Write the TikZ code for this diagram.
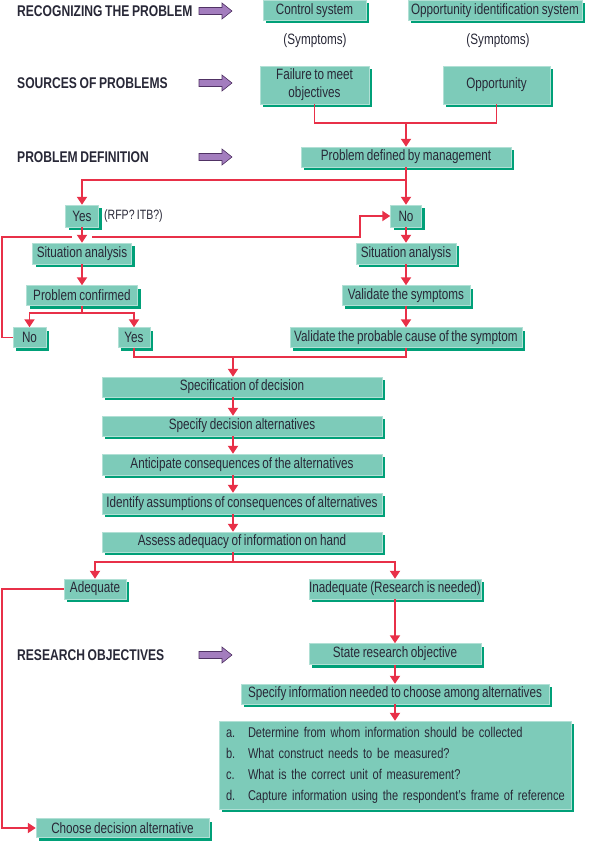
\documentclass[tikz,border=0pt]{standalone}
\usepackage{fontspec}
\setmainfont{Liberation Sans}[FakeStretch=0.78, WordSpace=0.8]
\usetikzlibrary{shapes,arrows,positioning,calc,shadows}
\usetikzlibrary{arrows.meta}
\definecolor{boxfill}{RGB}{125,203,185}
\definecolor{boxshade}{RGB}{0,160,120}
\definecolor{flowred}{RGB}{232,48,72}
\definecolor{arrowpurple}{RGB}{163,125,190}
\definecolor{arrowedge}{RGB}{80,50,100}
\definecolor{inktext}{RGB}{40,40,55}
\newcommand\askitem[2]{\mbox{\hspace*{3.5pt}\makebox[22pt][l]{#1}#2}}

\begin{document}
\begin{tikzpicture}[x=1pt,y=-1pt,
  box/.style={fill=boxfill, draw=boxfill!60!white, line width=0.4pt, text=inktext,
    inner sep=0pt, minimum height=20pt, font=\fontsize{15}{18}\selectfont,
    copy shadow={shadow xshift=3pt, shadow yshift=-3pt, fill=boxshade, draw=none}},
  link/.style={draw=flowred, line width=1.8pt},
  flow/.style={link, -{Triangle[width=10pt,length=8pt]}},
  heading/.style={anchor=west, inner sep=0pt, text=inktext,
    font=\fontsize{15.5}{18}\selectfont\bfseries},
  note/.style={inner sep=0pt, text=inktext, font=\fontsize{15}{18}\selectfont},
  sidearrow/.style={fill=arrowpurple, draw=arrowedge, line width=0.6pt}
]
  \fill[white] (0,0) rectangle (590,843);
  \useasboundingbox (0,0) rectangle (590,843);

  % headings on the left
  \node[heading] (hrecog) at (17,11) {RECOGNIZING THE PROBLEM};
  \node[heading] (hsource) at (17,83) {SOURCES OF PROBLEMS};
  \node[heading] (hdefine) at (17,157) {PROBLEM DEFINITION};
  \node[heading] (hobject) at (17,655) {RESEARCH OBJECTIVES};
  \foreach \hy in {11,83,157,655}
    \draw[sidearrow] (199,\hy-3.5) -- (222,\hy-3.5) -- (222,\hy-8) -- (232,\hy)
      -- (222,\hy+8) -- (222,\hy+3.5) -- (199,\hy+3.5) -- cycle;

  % recognizing and sources
  \node[box, minimum width=103pt] (ctrl) at (314.5,10.5) {Control system};
  \node[box, minimum width=174pt] (oppid) at (495,10.5) {Opportunity identification system};
  \node[note] (symA) at (315,41) {(Symptoms)};
  \node[note] (symB) at (498,41) {(Symptoms)};
  \node[box, minimum width=109pt, minimum height=38pt, align=center] (failure) at (314.5,85) {Failure to meet\\objectives};
  \node[box, minimum width=107pt, minimum height=38pt] (oppsrc) at (496.5,85) {Opportunity};
  \node[box, minimum width=210pt] (probdef) at (406,157) {Problem defined by management};

  % two branches
  \node[box, minimum width=33pt, minimum height=22pt] (yesA) at (82,216) {Yes};
  \node[note, anchor=west, font=\fontsize{13.5}{16}\selectfont] (rfp) at (104,216) {(RFP? ITB?)};
  \node[box, minimum width=31pt, minimum height=22pt] (noA) at (406,216) {No};
  \node[box, minimum width=99pt, minimum height=21pt] (sitL) at (82,253.5) {Situation analysis};
  \node[box, minimum width=111pt] (confirm) at (82,295.5) {Problem confirmed};
  \node[box, minimum width=33pt] (noB) at (29.5,337.5) {No};
  \node[box, minimum width=32pt] (yesB) at (134,337.5) {Yes};
  \node[box, minimum width=100pt, minimum height=21pt] (sitR) at (406,253.5) {Situation analysis};
  \node[box, minimum width=128pt] (valsym) at (406,295.5) {Validate the symptoms};
  \node[box, minimum width=232pt] (valcause) at (406,337.5) {Validate the probable cause of the symptom};

  % decision steps
  \coordinate (stem) at (233,0);
  \node[box, minimum width=280pt] (spec) at (242,387) {Specification of decision};
  \node[box, minimum width=280pt] (alts) at (242,426) {Specify decision alternatives};
  \node[box, minimum width=280pt, minimum height=21pt] (antic) at (242,464.5) {Anticipate consequences of the alternatives};
  \node[box, minimum width=280pt, minimum height=21pt] (assume) at (242,503.5) {Identify assumptions of consequences of alternatives};
  \node[box, minimum width=280pt] (assess) at (242,542) {Assess adequacy of information on hand};

  % research objectives
  \node[box, minimum width=62pt] (adequate) at (95,589) {Adequate};
  \node[box, minimum width=172pt] (inadequate) at (395,589) {Inadequate (Research is needed)};
  \node[box, minimum width=172pt, minimum height=21pt] (objective) at (395,654) {State research objective};
  \node[box, minimum width=308pt] (infoneed) at (395,694) {Specify information needed to choose among alternatives};
  \node[box, minimum height=88pt, inner xsep=3.5pt, text width=345pt, align=left,
    font=\fontsize{14.2}{21}\selectfont] (questions) at (395,765)
    {\askitem{a.}{Determine from whom information should be collected}\\
     \askitem{b.}{What construct needs to be measured?}\\
     \askitem{c.}{What is the correct unit of measurement?}\\
     \askitem{d.}{Capture information using the respondent's frame of reference}};
  \node[box, minimum width=173pt, minimum height=19pt] (choose) at (122.5,828) {Choose decision alternative};

  % connectors
  \coordinate (joinA) at (406,123);
  \draw[link] (failure.south) |- (joinA) -| (oppsrc.south);
  \draw[flow] (joinA) -- (probdef.north);
  \coordinate (joinB) at (406,180);
  \draw[flow] (probdef.south) -- (noA.north);
  \draw[flow] (joinB) -| (yesA.north);
  \draw[flow] (yesA) -- (sitL);
  \draw[flow] (sitL) -- (confirm);
  \coordinate (joinC) at (82,313);
  \draw[link] (confirm.south) -- (joinC);
  \draw[flow] (joinC) -| (noB.north);
  \draw[flow] (joinC) -| (yesB.north);
  \coordinate (loopA) at (2,0);
  \coordinate (gapL) at (72,237);
  \coordinate (gapR) at (92,237);
  \coordinate (bendA) at (360,237);
  \draw[link] (noB.west) -| (loopA |- gapL) -- (gapL);
  \draw[flow] (gapR) -- (bendA) |- (noA.west);
  \draw[flow] (noA) -- (sitR);
  \draw[flow] (sitR) -- (valsym);
  \draw[flow] (valsym) -- (valcause);
  \coordinate (joinD) at (233,357);
  \draw[link] (yesB.south) |- (joinD) -| (valcause.south);
  \draw[flow] (joinD) -- (spec.north -| stem);
  \foreach \a/\b in {spec/alts,alts/antic,antic/assume,assume/assess}
    \draw[flow] (\a.south -| stem) -- (\b.north -| stem);
  \coordinate (joinE) at (233,562);
  \draw[link] (assess.south -| stem) -- (joinE);
  \draw[flow] (joinE) -| (adequate.north);
  \draw[flow] (joinE) -| (inadequate.north);
  \draw[flow] (adequate.west) -| (loopA |- choose.west) -- (choose.west);
  \draw[flow] (inadequate) -- (objective);
  \draw[flow] (objective) -- (infoneed);
  \draw[flow] (infoneed) -- (questions);
\end{tikzpicture}
\end{document}
